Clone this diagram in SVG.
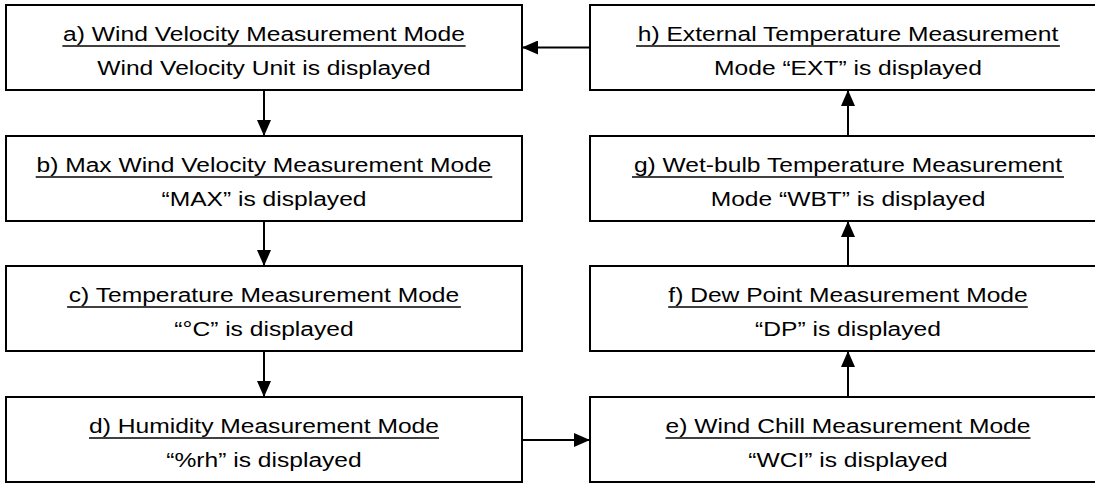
<svg xmlns="http://www.w3.org/2000/svg" width="1095" height="483" viewBox="0 0 1095 483">
<style>
.box{fill:#fff;stroke:#000;stroke-width:2}
.t{font-family:"Liberation Sans",Arial,sans-serif;font-size:20px;fill:#000;text-anchor:middle}
.ul{stroke:#000;stroke-width:1.6}
.conn line{stroke:#000;stroke-width:2;marker-end:url(#ah)}
</style>
<defs>
<marker id="ah" markerUnits="userSpaceOnUse" markerWidth="16" markerHeight="14" refX="16" refY="7" orient="auto">
<path d="M0,0 L16,7 L0,14 z" fill="#000"/>
</marker>
</defs>
<rect width="1095" height="483" fill="#fff"/>
<g id="node-a"><rect class="box" x="6" y="5" width="516" height="85"/>
<text class="t" transform="translate(264,41) scale(1.23,1)">a) Wind Velocity Measurement Mode</text><line class="ul" x1="62.4" y1="46" x2="465.6" y2="46"/>
<text class="t" transform="translate(264,75) scale(1.23,1)">Wind Velocity Unit is displayed</text></g>
<g id="node-b"><rect class="box" x="6" y="136" width="516" height="85"/>
<text class="t" transform="translate(264,172) scale(1.23,1)">b) Max Wind Velocity Measurement Mode</text><line class="ul" x1="35.7" y1="177" x2="492.3" y2="177"/>
<text class="t" transform="translate(264,206) scale(1.23,1)">“MAX” is displayed</text></g>
<g id="node-c"><rect class="box" x="6" y="266" width="516" height="85"/>
<text class="t" transform="translate(264,302) scale(1.23,1)">c) Temperature Measurement Mode</text><line class="ul" x1="67.1" y1="307" x2="460.9" y2="307"/>
<text class="t" transform="translate(264,336) scale(1.23,1)">“°C” is displayed</text></g>
<g id="node-d"><rect class="box" x="6" y="397" width="516" height="85"/>
<text class="t" transform="translate(264,433) scale(1.23,1)">d) Humidity Measurement Mode</text><line class="ul" x1="89" y1="438" x2="439" y2="438"/>
<text class="t" transform="translate(264,467) scale(1.23,1)">“%rh” is displayed</text></g>
<g id="node-e"><rect class="box" x="590" y="397" width="516" height="85"/>
<text class="t" transform="translate(848,433) scale(1.23,1)">e) Wind Chill Measurement Mode</text><line class="ul" x1="665.5" y1="438" x2="1030.5" y2="438"/>
<text class="t" transform="translate(848,467) scale(1.23,1)">“WCI” is displayed</text></g>
<g id="node-f"><rect class="box" x="590" y="266" width="516" height="85"/>
<text class="t" transform="translate(848,302) scale(1.23,1)">f) Dew Point Measurement Mode</text><line class="ul" x1="668.2" y1="307" x2="1027.8" y2="307"/>
<text class="t" transform="translate(848,336) scale(1.23,1)">“DP” is displayed</text></g>
<g id="node-g"><rect class="box" x="590" y="136" width="516" height="85"/>
<text class="t" transform="translate(848,172) scale(1.23,1)">g) Wet-bulb Temperature Measurement</text><line class="ul" x1="632" y1="177" x2="1064" y2="177"/>
<text class="t" transform="translate(848,206) scale(1.23,1)">Mode “WBT” is displayed</text></g>
<g id="node-h"><rect class="box" x="590" y="5" width="516" height="85"/>
<text class="t" transform="translate(848,41) scale(1.23,1)">h) External Temperature Measurement</text><line class="ul" x1="636.1" y1="46" x2="1059.9" y2="46"/>
<text class="t" transform="translate(848,75) scale(1.23,1)">Mode “EXT” is displayed</text></g>
<g id="connectors" class="conn">
<line x1="264" y1="90" x2="264" y2="136"/>
<line x1="264" y1="221" x2="264" y2="266"/>
<line x1="264" y1="351" x2="264" y2="397"/>
<line x1="522" y1="440" x2="590" y2="440"/>
<line x1="848" y1="397" x2="848" y2="351"/>
<line x1="848" y1="266" x2="848" y2="221"/>
<line x1="848" y1="136" x2="848" y2="90"/>
<line x1="590" y1="47.5" x2="522" y2="47.5"/>
</g>
</svg>
